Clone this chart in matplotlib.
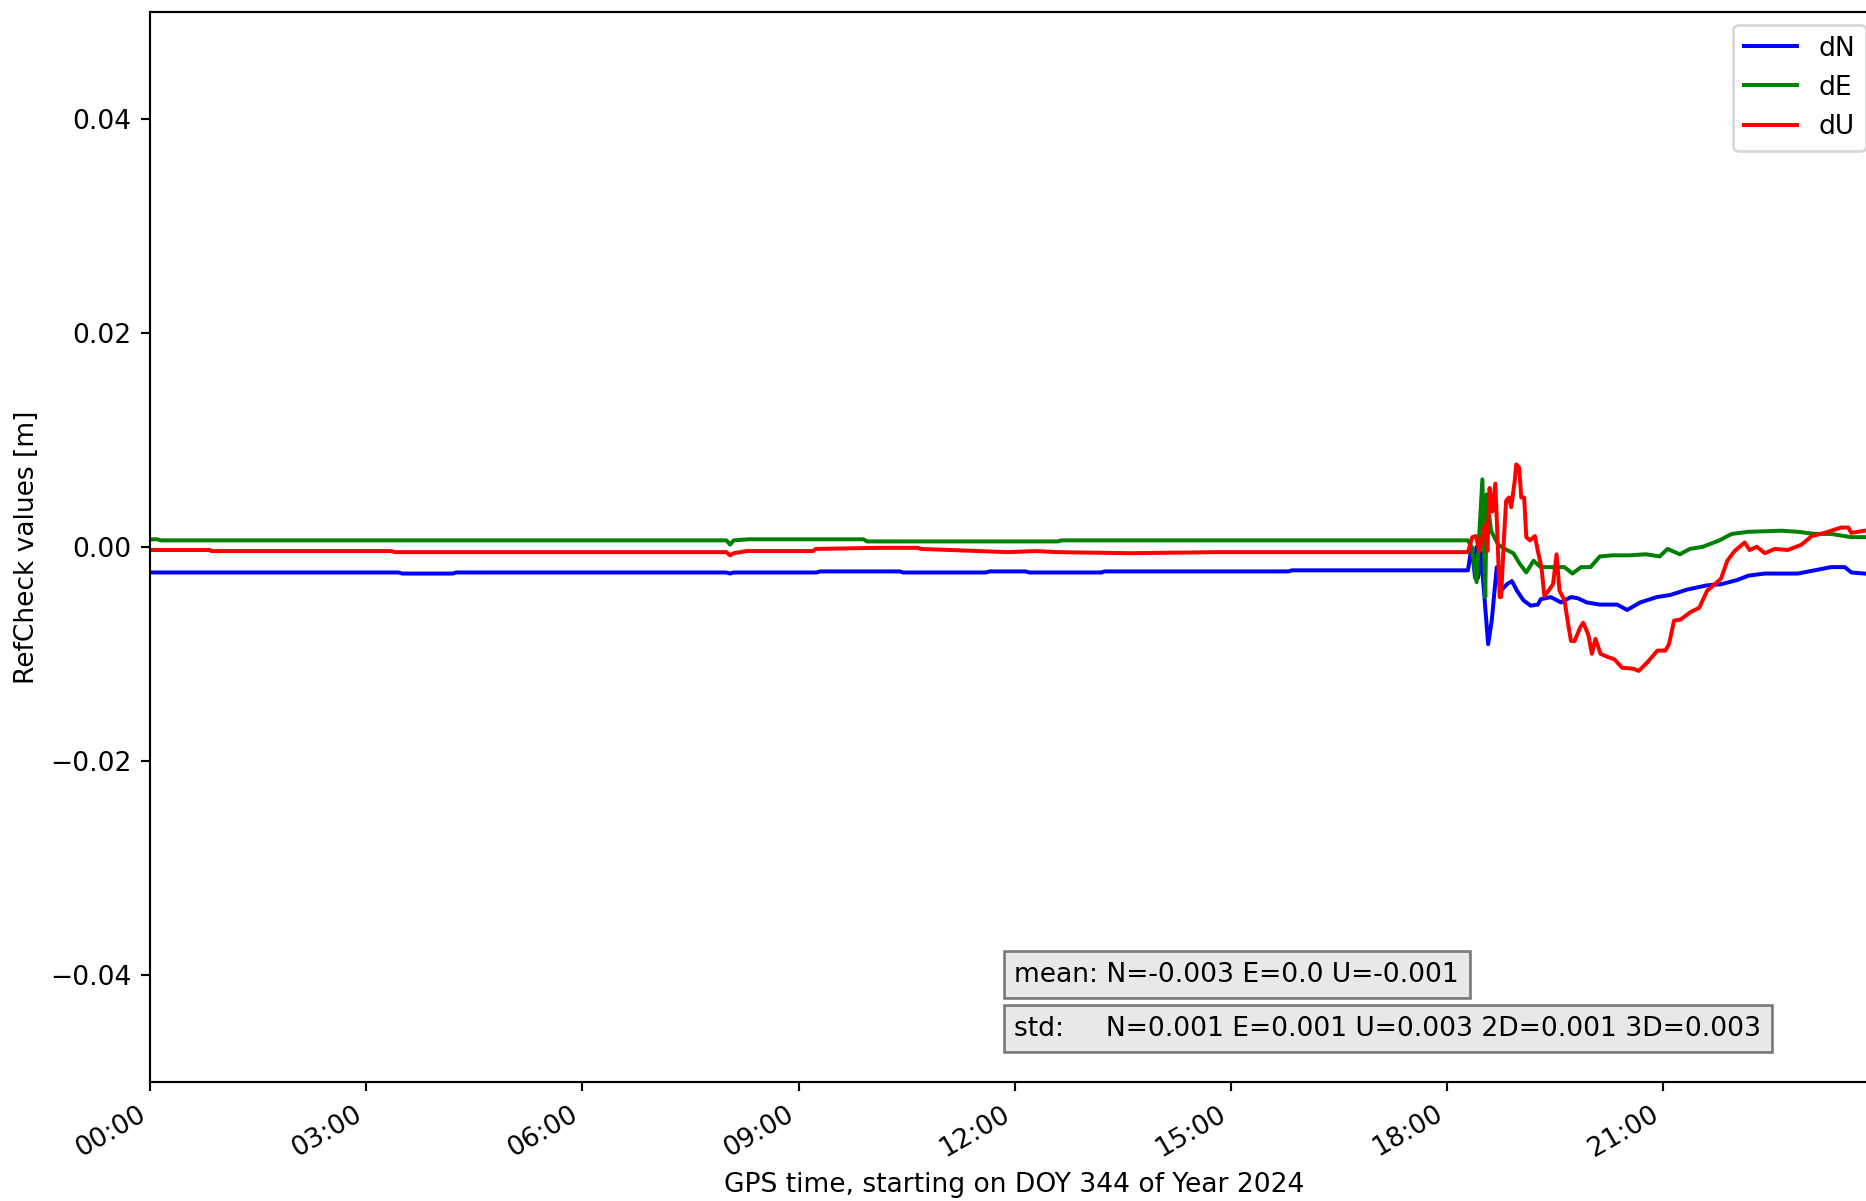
import datetime as dt

import matplotlib
matplotlib.use('Agg')
import matplotlib.pyplot as plt
import matplotlib.dates as mdates

# hours since start of DOY 344 / 2024, and the N/E/U residuals in metres
dn_hours = [
    0.00, 3.45, 3.50, 4.20, 4.25, 8.00, 8.05, 8.10, 8.20, 9.25,
    9.30, 10.40, 10.45, 11.60, 11.65, 12.15, 12.20, 13.20, 13.25, 15.80,
    15.85, 18.29, 18.34, 18.39, 18.41, 18.43, 18.47, 18.57, 18.62, 18.69,
    18.75, 18.83, 18.90, 18.97, 19.06, 19.16, 19.26, 19.30, 19.44, 19.58,
    19.72, 19.81, 19.94, 20.12, 20.36, 20.50, 20.68, 20.91, 21.10, 21.33,
    21.61, 21.80, 22.03, 22.18, 22.41, 22.87, 23.10, 23.33, 23.52, 23.61,
    23.79, 24.00]
dn_vals = [
    -0.0024, -0.0024, -0.0025, -0.0025, -0.0024, -0.0024, -0.0025, -0.0024, -0.0024, -0.0024,
    -0.0023, -0.0023, -0.0024, -0.0024, -0.0023, -0.0023, -0.0024, -0.0024, -0.0023, -0.0023,
    -0.0022, -0.0022, 0.0000, -0.0029, 0.0000, -0.0029, -0.0005, -0.0091, -0.0069, -0.0019,
    -0.0041, -0.0035, -0.0032, -0.0041, -0.0050, -0.0055, -0.0054, -0.0049, -0.0047, -0.0052,
    -0.0047, -0.0048, -0.0052, -0.0054, -0.0054, -0.0059, -0.0052, -0.0047, -0.0045, -0.0040,
    -0.0036, -0.0035, -0.0031, -0.0027, -0.0025, -0.0025, -0.0022, -0.0019, -0.0019, -0.0024,
    -0.0025, -0.0026]

de_hours = [
    0.00, 0.10, 0.15, 8.00, 8.05, 8.10, 8.30, 9.90, 9.95, 12.60,
    12.65, 18.29, 18.34, 18.41, 18.49, 18.53, 18.55, 18.61, 18.71, 18.80,
    18.92, 19.01, 19.10, 19.20, 19.30, 19.44, 19.63, 19.74, 19.86, 19.99,
    20.12, 20.30, 20.53, 20.76, 20.95, 21.06, 21.23, 21.37, 21.55, 21.78,
    21.95, 22.18, 22.64, 22.87, 23.10, 23.33, 23.61, 23.79, 24.00]
de_vals = [
    0.0007, 0.0007, 0.0006, 0.0006, 0.0002, 0.0006, 0.0007, 0.0007, 0.0005, 0.0005,
    0.0006, 0.0006, 0.0000, -0.0033, 0.0063, -0.0047, 0.0049, 0.0015, 0.0002, -0.0002,
    -0.0006, -0.0016, -0.0024, -0.0013, -0.0019, -0.0019, -0.0019, -0.0025, -0.0019, -0.0019,
    -0.0009, -0.0008, -0.0008, -0.0007, -0.0009, -0.0002, -0.0007, -0.0002, 0.0000, 0.0006,
    0.0012, 0.0014, 0.0015, 0.0014, 0.0012, 0.0012, 0.0009, 0.0009, 0.0009]

du_hours = [
    0.00, 0.83, 0.85, 3.35, 3.40, 7.60, 8.00, 8.05, 8.10, 8.28,
    9.20, 9.24, 10.10, 10.66, 10.70, 11.50, 11.90, 12.30, 12.60, 13.60,
    14.80, 18.29, 18.35, 18.40, 18.45, 18.49, 18.53, 18.56, 18.59, 18.63,
    18.67, 18.70, 18.73, 18.75, 18.79, 18.82, 18.86, 18.89, 18.94, 18.96,
    19.00, 19.03, 19.07, 19.10, 19.15, 19.22, 19.26, 19.31, 19.35, 19.42,
    19.47, 19.52, 19.56, 19.63, 19.68, 19.72, 19.77, 19.85, 19.89, 19.96,
    20.01, 20.06, 20.13, 20.23, 20.32, 20.43, 20.59, 20.66, 20.78, 20.92,
    21.03, 21.08, 21.15, 21.24, 21.38, 21.50, 21.61, 21.68, 21.80, 21.89,
    21.99, 22.13, 22.20, 22.30, 22.41, 22.55, 22.73, 22.92, 23.06, 23.24,
    23.33, 23.47, 23.57, 23.61, 23.79, 24.00]
du_vals = [
    -0.0003, -0.0003, -0.0004, -0.0004, -0.0005, -0.0005, -0.0005, -0.0008, -0.0006, -0.0004,
    -0.0004, -0.0002, -0.0001, -0.0001, -0.0002, -0.0004, -0.0005, -0.0004, -0.0005, -0.0006,
    -0.0005, -0.0005, 0.0009, 0.0010, -0.0004, 0.0009, 0.0021, -0.0004, 0.0055, 0.0033,
    0.0059, 0.0009, -0.0047, -0.0047, 0.0009, 0.0043, 0.0046, 0.0037, 0.0062, 0.0077,
    0.0074, 0.0046, 0.0046, 0.0009, 0.0006, 0.0010, -0.0004, -0.0019, -0.0046, -0.0040,
    -0.0035, -0.0007, -0.0041, -0.0050, -0.0072, -0.0088, -0.0088, -0.0075, -0.0071, -0.0082,
    -0.0100, -0.0086, -0.0100, -0.0103, -0.0105, -0.0113, -0.0114, -0.0116, -0.0108, -0.0097,
    -0.0097, -0.0091, -0.0069, -0.0068, -0.0061, -0.0057, -0.0041, -0.0037, -0.0030, -0.0013,
    -0.0004, 0.0004, -0.0003, 0.0000, -0.0006, -0.0002, -0.0003, 0.0002, 0.0010, 0.0013,
    0.0015, 0.0018, 0.0018, 0.0013, 0.0015, 0.0016]

mean_text = 'mean: N=-0.003 E=0.0 U=-0.001'
std_text = 'std:     N=0.001 E=0.001 U=0.003 2D=0.001 3D=0.003'

start = dt.datetime(2024, 12, 9)
end = start + dt.timedelta(hours=23, minutes=59, seconds=30)


def to_time(hours):
    return [start + dt.timedelta(hours=h) for h in hours]


dpi = 191
fig = plt.figure(figsize=(1866.4 / dpi, 1201.4 / dpi), dpi=dpi)
ax = fig.add_axes([150 / 1866, 119 / 1201, 1728.4 / 1866, 1070 / 1201])

ax.plot(to_time(dn_hours), dn_vals, color='blue', lw=1.5, label='dN')
ax.plot(to_time(de_hours), de_vals, color='green', lw=1.5, label='dE')
ax.plot(to_time(du_hours), du_vals, color='red', lw=1.5, label='dU')

ax.set_xlim(start, end)
ax.set_ylim(-0.05, 0.05)
ax.set_yticks([-0.04, -0.02, 0.0, 0.02, 0.04])
ax.xaxis.set_major_locator(mdates.HourLocator(byhour=range(0, 24, 3)))
ax.xaxis.set_major_formatter(mdates.DateFormatter('%H:%M'))
plt.setp(ax.get_xticklabels(), rotation=30, ha='right')

ax.set_xlabel('GPS time, starting on DOY 344 of Year 2024')
ax.set_ylabel('RefCheck values [m]')
ax.legend(loc='upper right')

box = dict(facecolor='lightgray', alpha=0.5)
ax.text(0.5, 0.0935, mean_text, transform=ax.transAxes, bbox=box)
ax.text(0.5, 0.0435, std_text, transform=ax.transAxes, bbox=box)

fig.savefig('out.png', dpi=dpi)
